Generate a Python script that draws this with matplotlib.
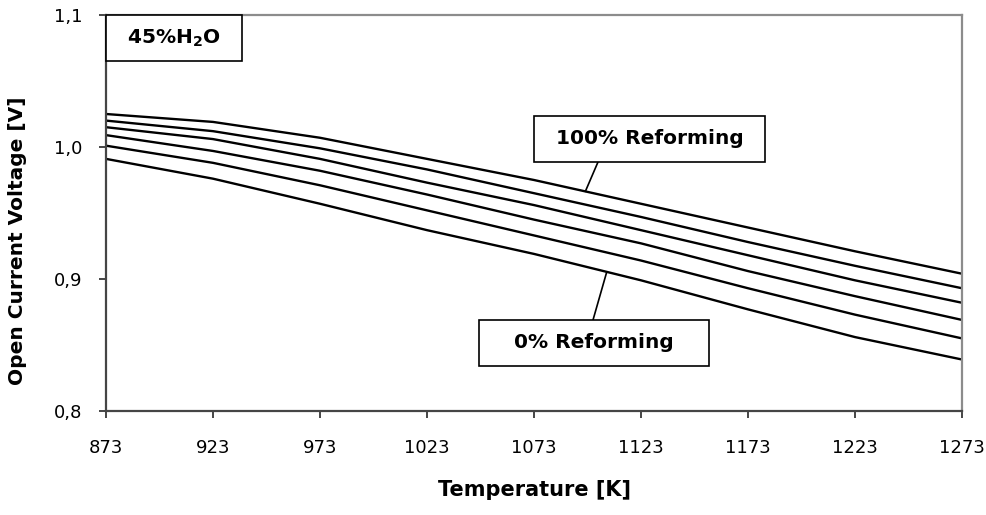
import numpy as np
import matplotlib
matplotlib.use("Agg")
import matplotlib.pyplot as plt
from matplotlib.patches import Rectangle
from matplotlib.ticker import FixedLocator

plt.rcParams['font.family'] = ['DejaVu Sans']
plt.rcParams['mathtext.default'] = 'bf'

# Temperature grid [K]
temperature = [873, 923, 973, 1023, 1073, 1123, 1173, 1223, 1273]

# Open-circuit voltage [V] for different degrees of pre-reforming (45% H2O)
ocv_100 = [1.025, 1.019, 1.007, 0.991, 0.975, 0.957, 0.939, 0.921, 0.904]
ocv_80 = [1.020, 1.012, 0.999, 0.983, 0.965, 0.947, 0.928, 0.910, 0.893]
ocv_60 = [1.015, 1.006, 0.991, 0.973, 0.956, 0.937, 0.918, 0.899, 0.882]
ocv_40 = [1.009, 0.997, 0.982, 0.964, 0.945, 0.927, 0.906, 0.887, 0.869]
ocv_20 = [1.001, 0.988, 0.971, 0.952, 0.933, 0.914, 0.893, 0.873, 0.855]
ocv_0 = [0.991, 0.976, 0.957, 0.937, 0.919, 0.899, 0.877, 0.856, 0.839]

series = [ocv_100, ocv_80, ocv_60, ocv_40, ocv_20, ocv_0]

y_ticks = [0.8, 0.9, 1.0, 1.1]
y_tick_labels = ["0,8", "0,9", "1,0", "1,1"]

W, H = 986, 515
fig = plt.figure(figsize=(W / 100, H / 100), dpi=100)
ax = fig.add_axes([106 / W, 1 - 411 / H, 856 / W, 396 / H])

for s in series:
    ax.plot(temperature, s, color="black", lw=1.7, solid_joinstyle="round")

ax.set_xlim(873, 1273)
ax.set_ylim(0.8, 1.1)
ax.xaxis.set_major_locator(FixedLocator(temperature))
ax.set_xticklabels([str(t) for t in temperature])
ax.set_yticks(y_ticks)
ax.set_yticklabels(y_tick_labels)

for side in ("left", "bottom"):
    ax.spines[side].set_color("#454545")
    ax.spines[side].set_linewidth(1.6)
for side in ("top", "right"):
    ax.spines[side].set_color("#8c8c8c")
    ax.spines[side].set_linewidth(1.6)

ax.tick_params(axis="both", direction="out", length=5, width=1.4,
               color="#454545", labelsize=13, labelcolor="black")
ax.tick_params(axis="x", pad=15)
ax.tick_params(axis="y", pad=12)

ax.set_xlabel("Temperature [K]", fontsize=15, fontweight="bold")
ax.xaxis.set_label_coords(0.5, -0.175)
ax.set_ylabel("Open Current Voltage [V]", fontsize=14.5, fontweight="bold")
ax.yaxis.set_label_coords(-0.092, 0.43)


def px_box(x0, y0, x1, y1):
    fig.add_artist(Rectangle((x0 / W, 1 - y1 / H), (x1 - x0) / W, (y1 - y0) / H,
                             transform=fig.transFigure, facecolor="white",
                             edgecolor="black", lw=1.2, zorder=5))


# Water content tag
px_box(106, 15, 242, 61)
fig.text(174 / W, 1 - 38 / H, "45%H$_2$O", fontsize=14.5, fontweight="bold",
         ha="center", va="center", zorder=6)

# Leader lines to the outermost curves
t_top = 1097
t_bot = 1107
ax.annotate("", xy=(t_top, np.interp(t_top, temperature, ocv_100)),
            xytext=(598 / W, 1 - 162 / H), textcoords="figure fraction",
            arrowprops=dict(arrowstyle="-", color="black", lw=1.2,
                            shrinkA=0, shrinkB=0))
ax.annotate("", xy=(t_bot, np.interp(t_bot, temperature, ocv_0)),
            xytext=(593 / W, 1 - 320 / H), textcoords="figure fraction",
            arrowprops=dict(arrowstyle="-", color="black", lw=1.2,
                            shrinkA=0, shrinkB=0))

px_box(534, 116, 765, 162)
fig.text(649.5 / W, 1 - 139 / H, "100% Reforming", fontsize=14.5,
         fontweight="bold", ha="center", va="center", zorder=6)
px_box(479, 320, 709, 366)
fig.text(594 / W, 1 - 343 / H, "0% Reforming", fontsize=14.5,
         fontweight="bold", ha="center", va="center", zorder=6)

fig.savefig("out.png", dpi=100, facecolor="white")
